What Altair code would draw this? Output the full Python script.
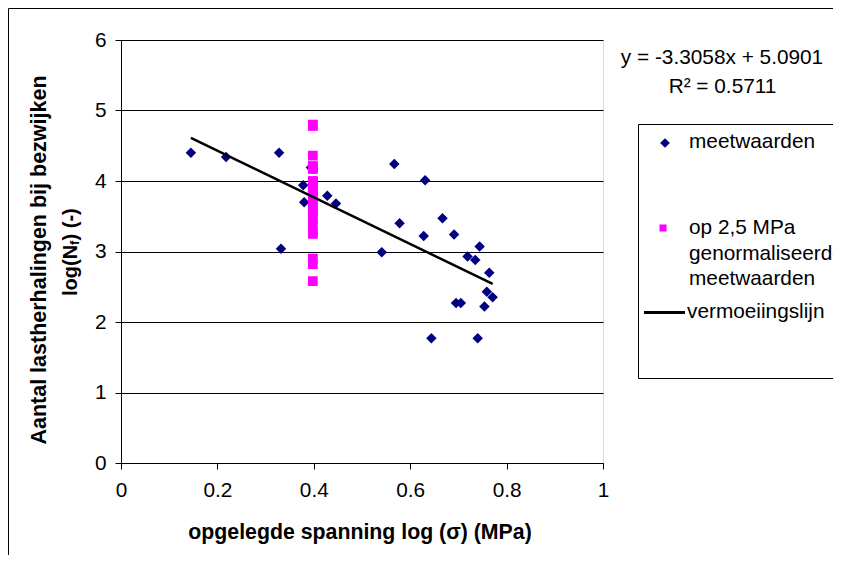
import altair as alt
import pandas as pd

# ---- data ----
meet_x = [0.145, 0.218, 0.328, 0.332, 0.378, 0.380, 0.394, 0.428, 0.446,
          0.567, 0.631, 0.578, 0.667, 0.628, 0.691, 0.541, 0.744, 0.719,
          0.735, 0.764, 0.759, 0.771, 0.695, 0.705, 0.754, 0.644, 0.740]
meet_y = [4.40, 4.34, 4.40, 3.04, 3.94, 3.70, 4.19, 3.79, 3.68,
          4.24, 4.01, 3.40, 3.47, 3.22, 3.24, 2.99, 3.07, 2.93,
          2.88, 2.70, 2.43, 2.35, 2.27, 2.27, 2.22, 1.77, 1.77]
norm_x = [0.398] * 27
norm_y = [3.56, 3.75, 4.17, 2.82, 3.87, 3.64, 4.18, 3.89, 3.84,
          4.80, 4.78, 4.00, 4.36, 3.98, 4.21, 3.46, 4.21, 3.99,
          3.99, 3.91, 3.62, 3.58, 3.25, 3.28, 3.40, 2.58, 2.90]
trend_x = [0.145, 0.771]
trend_y = [4.611, 2.541]

x_ticks = [0, 0.2, 0.4, 0.6, 0.8, 1]
y_ticks = [0, 1, 2, 3, 4, 5, 6]

eq_text = ["y = -3.3058x + 5.0901", "R² = 0.5711"]
legend_labels = ["meetwaarden", "op 2,5 MPa", "genormaliseerde", "meetwaarden", "vermoeiingslijn"]
x_title = "opgelegde spanning log (σ) (MPa)"
y_title_1 = "Aantal lastherhalingen bij bezwijken"
y_title_2 = ["log(N", "f", ") (-)"]

FONT = "Liberation Sans"
FS = 20.8

meet = pd.DataFrame({"x": meet_x, "y": meet_y})
norm = pd.DataFrame({"x": norm_x, "y": norm_y})
trend = pd.DataFrame({"x": trend_x, "y": trend_y})

xs = alt.Scale(domain=[0, 1], nice=False, zero=False)
ys = alt.Scale(domain=[0, 6], nice=False, zero=False)
xenc = alt.X("x:Q", scale=xs, axis=alt.Axis(values=x_ticks, format="~g", title=None, grid=False,
                                             tickSize=6, labelPadding=11, labelFontSize=FS,
                                             labelColor="black", tickColor="black",
                                             labelFlush=False, labelOverlap=False,
                                             domainColor="black", labelFont=FONT))
yenc = alt.Y("y:Q", scale=ys, axis=alt.Axis(values=y_ticks, format="d", title=None, grid=True,
                                             gridColor="black", gridWidth=1,
                                             tickSize=6, labelPadding=9, labelFontSize=FS,
                                             labelColor="black", tickColor="black",
                                             labelFlush=False, labelOverlap=False,
                                             domainColor="black", labelFont=FONT))

blue = alt.Chart(meet).mark_point(shape="diamond", filled=True, size=110, color="#000080",
                                  opacity=1).encode(x=xenc, y=yenc)
pink = alt.Chart(norm).mark_square(size=95, color="#FF00FF", opacity=1).encode(x="x:Q", y="y:Q")
line = alt.Chart(trend).mark_line(color="black", strokeWidth=2.5).encode(x="x:Q", y="y:Q")

one = pd.DataFrame({"a": [0]})


def txt(s, x, y, size=FS, align="left", bold=False, angle=0, baseline="alphabetic"):
    kw = dict(text=s, align=align, baseline=baseline, fontSize=size, font=FONT, color="black")
    if bold:
        kw["fontWeight"] = "bold"
    if angle:
        kw["angle"] = angle
    return alt.Chart(one).mark_text(**kw).encode(x=alt.value(x), y=alt.value(y))


# outer chart border (top and left visible in the reference)
border_top = alt.Chart(one).mark_rule(color="black", strokeWidth=1).encode(
    x=alt.value(-112.5), x2=alt.value(760), y=alt.value(-31.5))
border_left = alt.Chart(one).mark_rule(color="black", strokeWidth=1).encode(
    x=alt.value(-112.5), y=alt.value(-31.5), y2=alt.value(560))

# legend box
legend_box = alt.Chart(one).mark_rect(fill="white", stroke="black", strokeWidth=1).encode(
    x=alt.value(517.5), x2=alt.value(760), y=alt.value(84.5), y2=alt.value(338.5))
leg_diamond = alt.Chart(one).mark_point(shape="diamond", filled=True, size=95, color="#000080",
                                        opacity=1).encode(x=alt.value(544), y=alt.value(103))
leg_square = alt.Chart(one).mark_square(size=50, color="#FF00FF", opacity=1).encode(
    x=alt.value(542), y=alt.value(188))
leg_line = alt.Chart(one).mark_rule(color="black", strokeWidth=3).encode(
    x=alt.value(523), x2=alt.value(564), y=alt.value(272.5))

texts = [
    txt(eq_text[0], 601, 24, align="center"),
    txt(eq_text[1], 601.5, 53, align="center"),
    txt(legend_labels[0], 568, 108),
    txt(legend_labels[1], 568, 194),
    txt(legend_labels[2], 568, 220),
    txt(legend_labels[3], 568, 245),
    txt(legend_labels[4], 566, 278),
    txt(x_title, 239, 499, size=21.3, align="center", bold=True),
    txt(y_title_1, -81, 220, size=21.5, align="center", bold=True, angle=270, baseline="middle"),
    txt(y_title_2[0], -50, 256, size=20, bold=True, angle=270, baseline="middle"),
    txt(y_title_2[1], -46, 205, size=13, bold=True, angle=270, baseline="middle"),
    txt(y_title_2[2], -50, 200.5, size=20, bold=True, angle=270, baseline="middle"),
]

chart = alt.layer(blue, pink, line, border_top, border_left, legend_box, leg_diamond,
                  leg_square, leg_line, *texts).properties(
    width=482, height=423,
    autosize=alt.AutoSizeParams(type="none"),
    padding={"left": 113, "top": 32, "right": 230, "bottom": 92},
    background="white",
).configure_view(fill="#C0C0C0", stroke="#808080", strokeWidth=1).configure(font=FONT)

chart.save("out.html", embed_options={"renderer": "svg", "actions": False})
